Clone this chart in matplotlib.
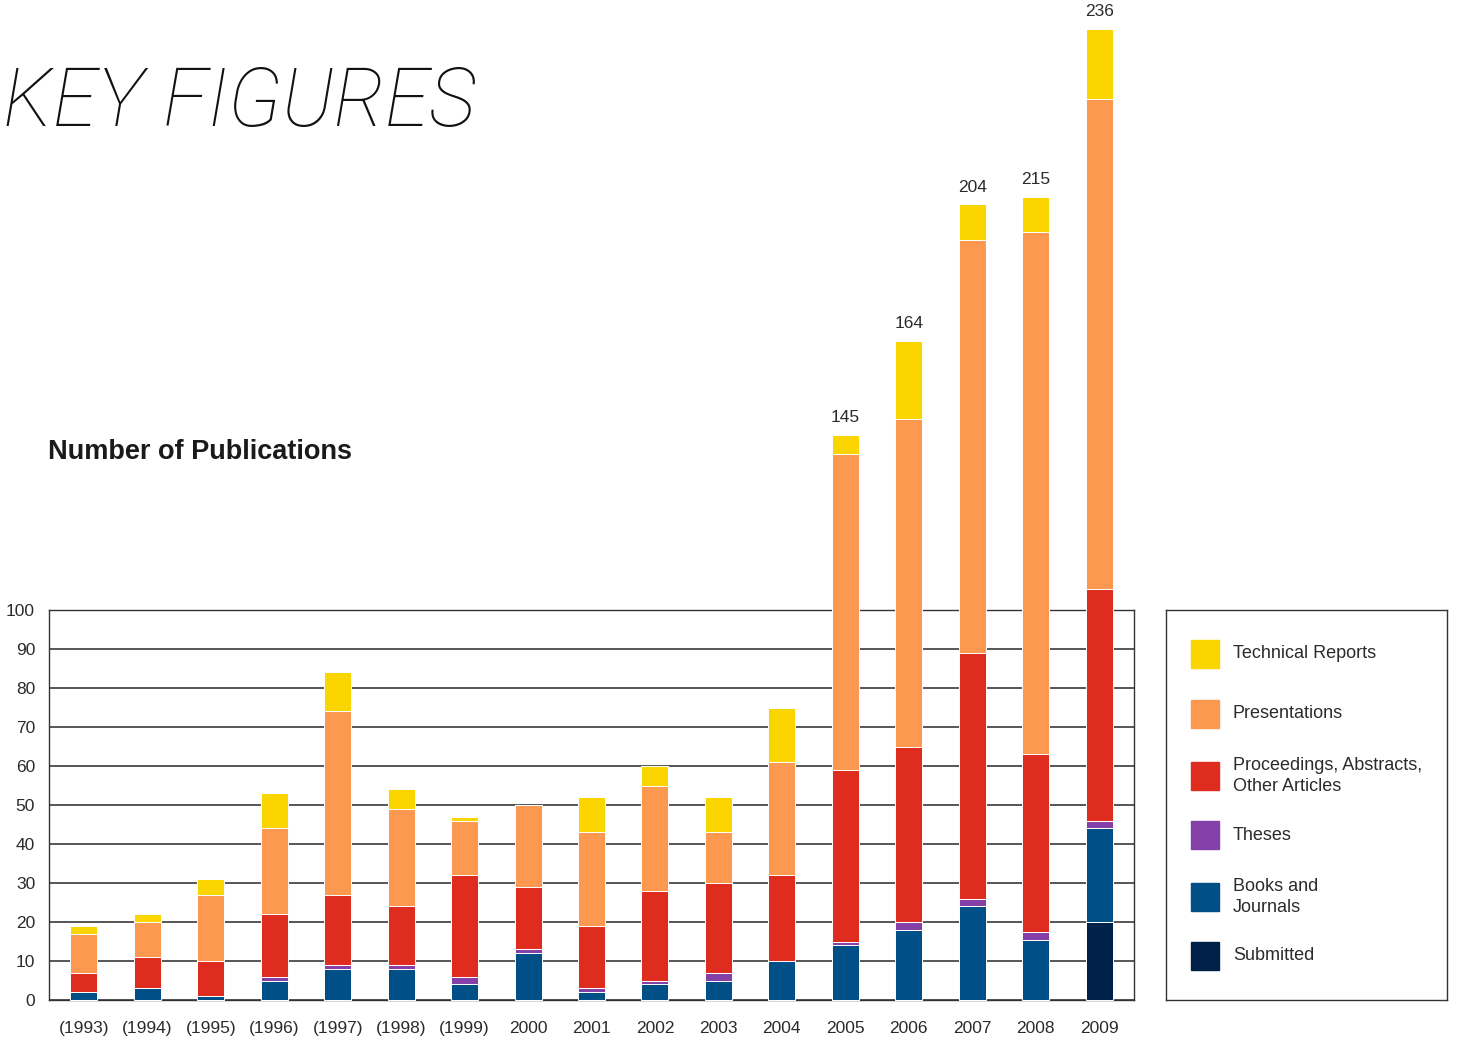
import numpy as np
import matplotlib
matplotlib.use('Agg')
import matplotlib.pyplot as plt
from matplotlib.patches import Rectangle

# ── data ──────────────────────────────────────────────────────────────────
years = ['(1993)', '(1994)', '(1995)', '(1996)', '(1997)', '(1998)', '(1999)',
         '2000', '2001', '2002', '2003', '2004', '2005', '2006', '2007', '2008', '2009']
submitted     = [0, 0, 0, 0, 0, 0, 0, 0, 0, 0, 0, 0, 0, 0, 0, 0, 20]
books         = [2, 3, 1, 5, 8, 8, 4, 12, 2, 4, 5, 10, 14, 18, 24, 15.5, 24]
theses        = [0, 0, 0, 1, 1, 1, 2, 1, 1, 1, 2, 0, 1, 2, 2, 2, 2]
proceedings   = [5, 8, 9, 16, 18, 15, 26, 16, 16, 23, 23, 22, 44, 45, 63, 45.5, 59.5]
presentations = [10, 9, 17, 22, 47, 25, 14, 21, 24, 27, 13, 29, 81, 84, 106, 134, 125.5]
tech_reports  = [2, 2, 4, 9, 10, 5, 1, 0, 9, 5, 9, 14, 5, 20, 9, 9, 18]

total_labels = {12: '145', 13: '164', 14: '204', 15: '215', 16: '236'}

series = [
    ('Submitted', submitted, '#00224A'),
    ('Books and\nJournals', books, '#005087'),
    ('Theses', theses, '#8540A8'),
    ('Proceedings, Abstracts,\nOther Articles', proceedings, '#DE2D1E'),
    ('Presentations', presentations, '#FD9850'),
    ('Technical Reports', tech_reports, '#FBD500'),
]

TXT = '#2b2b2b'
plt.rcParams['font.family'] = ['Liberation Sans', 'DejaVu Sans']

fig = plt.figure(figsize=(14.6, 10.43), dpi=100)
W, H = 1460, 1043
ax = fig.add_axes([49 / W, 1 - 1000 / H, (1134 - 49) / W, 390 / H])

x = np.arange(len(years))
bottom = np.zeros(len(years))
for name, vals, col in series:
    vals = np.array(vals, dtype=float)
    bars = ax.bar(x, vals, width=0.425, bottom=bottom, color=col,
                  edgecolor='white', linewidth=0.7, zorder=3)
    for b in bars:
        b.set_clip_on(False)
    bottom += vals

for i, lab in total_labels.items():
    ax.text(x[i], bottom[i] + 2.5, lab, ha='center', va='bottom',
            fontsize=12.5, color=TXT)

ax.set_xlim(-0.55, 16.55)
ax.set_ylim(0, 100)
ax.set_yticks(range(0, 101, 10))
ax.set_xticks(x)
ax.set_xticklabels(years)
ax.tick_params(axis='both', length=0, labelsize=12.5, colors=TXT)
ax.tick_params(axis='x', pad=15)
ax.tick_params(axis='y', pad=10)
ax.yaxis.grid(True, color='#3a3a3a', lw=1.2, zorder=0)
ax.set_axisbelow(True)
for s in ax.spines.values():
    s.set_color('#333333')
    s.set_linewidth(1.0)

# ── titles ────────────────────────────────────────────────────────────────
fig.text(3 / W, 1 - 104 / H, 'KEY FIGURES', fontsize=58, style='italic',
         fontweight='light', family=['Roboto', 'DejaVu Sans'], color='#111111',
         ha='left', va='center')
fig.text(48 / W, 1 - 452 / H, 'Number of Publications', fontsize=19.5,
         fontweight='bold', color='#1a1a1a', ha='left', va='center')

# ── legend box ────────────────────────────────────────────────────────────
lax = fig.add_axes([1166 / W, 1 - 1000 / H, (1447 - 1166) / W, 390 / H])
lax.set_xlim(1166, 1447)
lax.set_ylim(1000, 610)
lax.set_xticks([])
lax.set_yticks([])
for s in lax.spines.values():
    s.set_color('#333333')
    s.set_linewidth(1.0)

rows_y = [654, 714, 776, 835, 897, 956]
for (name, vals, col), yy in zip(series[::-1], rows_y):
    lax.add_patch(Rectangle((1191, yy - 14), 28, 28, color=col))
    lax.text(1233, yy, name, ha='left', va='center', fontsize=13,
             color=TXT, linespacing=1.3)

fig.savefig('out.png', dpi=100, facecolor='white')
